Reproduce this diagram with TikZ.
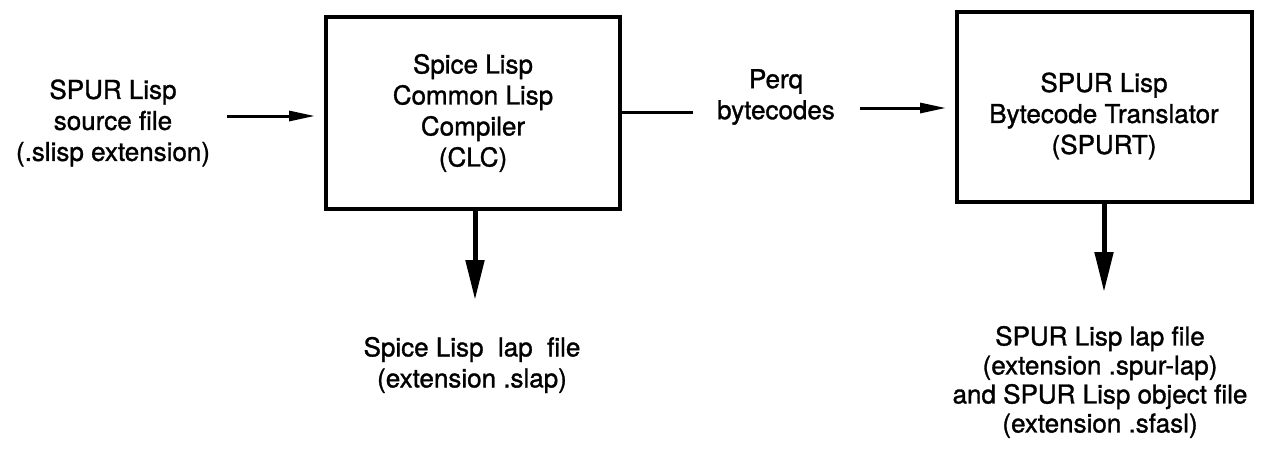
\documentclass[tikz,border=0pt]{standalone}
\usepackage{fontspec}
\setmainfont[FakeBold=1.2,BoldFont={TeX Gyre Heros}]{TeX Gyre Heros}
\usetikzlibrary{arrows.meta}
\begin{document}
\begin{tikzpicture}[x=1pt,y=-1pt,
  lbl/.style={align=center,font=\fontsize{26}{31}\selectfont\bfseries,inner sep=0pt},
  procbox/.style={draw,line width=4pt,minimum width=#1,inner sep=0pt},
  thinarrow/.style={line width=3pt,-{Triangle[length=26pt,width=10pt]}},
  thickarrow/.style={line width=5pt,-{Triangle[length=40pt,width=18pt]}},
  plainline/.style={line width=3pt}]
\useasboundingbox (0,0) rectangle (1261,448);

\node[procbox=294pt,minimum height=192pt] (clc) at (473,113) {};
\node[lbl] (clctext) at (clc.center) {Spice Lisp\\Common Lisp\\Compiler\\(CLC)};

\node[procbox=295pt,minimum height=190pt] (spurt) at (1104.5,107) {};
\node[lbl] (spurttext) at (1104,116) {SPUR Lisp\\Bytecode Translator\\(SPURT)};

\node[lbl] (src) at (113,123) {SPUR Lisp\\source file\\(.slisp extension)};
\node[lbl] (perq) at (776,97) {Perq\\bytecodes};

\coordinate (a1s) at (227,116);
\draw[thinarrow,shorten >=9pt] (a1s) -- (clc.west |- a1s);

\coordinate (l1e) at (693,112);
\draw[plainline] (clc.east |- l1e) -- (l1e);

\coordinate (a2s) at (860,108);
\draw[thinarrow,shorten >=9pt] (a2s) -- (spurt.west |- a2s);

\coordinate (t1) at (475,300);
\draw[thickarrow] (clc.south -| t1) -- (t1);
\coordinate (t2) at (1104,292);
\draw[thickarrow] (spurt.south -| t2) -- (t2);

\node[lbl] (out1) at (472,365) {Spice Lisp\ \ lap\ \ file\\(extension .slap)};
\node[lbl,font=\fontsize{26}{29}\selectfont\bfseries] (out2) at (1100,382) {SPUR Lisp lap file\\(extension .spur-lap)\\and SPUR Lisp object file\\(extension .sfasl)};
\end{tikzpicture}
\end{document}
